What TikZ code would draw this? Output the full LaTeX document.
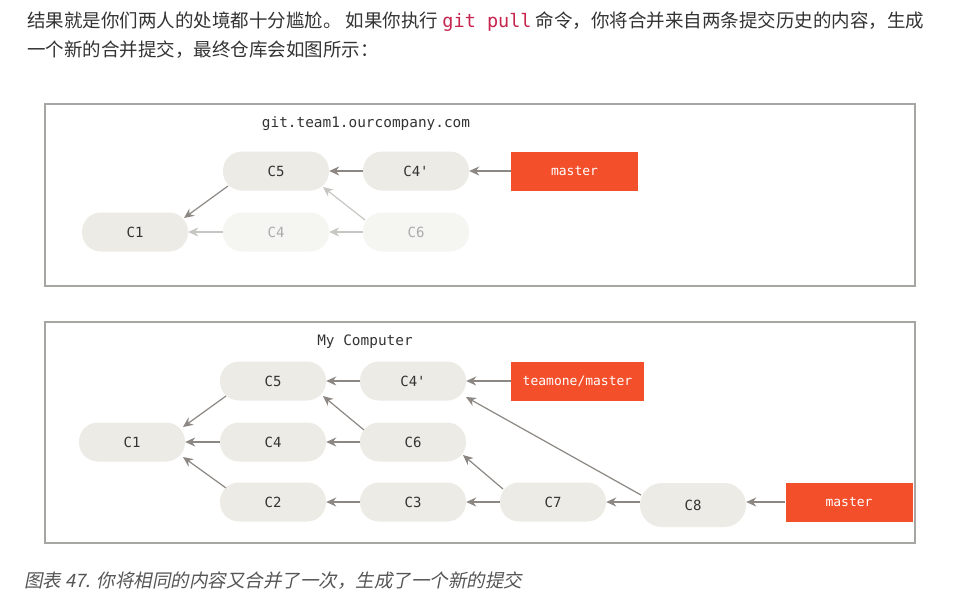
\documentclass[tikz,border=0pt]{standalone}
\usepackage{fontspec}
\newfontfamily\cjk{Noto Sans CJK SC}
\newfontfamily\cjkit[FakeSlant=0.2]{Noto Sans CJK SC}
\newfontfamily\mono{DejaVu Sans Mono}
\usetikzlibrary{arrows.meta}
\definecolor{txt}{HTML}{333333}
\definecolor{codec}{HTML}{C7254E}
\definecolor{framec}{HTML}{A8A6A2}
\definecolor{commitc}{HTML}{ECEBE5}
\definecolor{fadec}{HTML}{F5F5F1}
\definecolor{branchc}{HTML}{F44F2B}
\definecolor{arrowc}{HTML}{8C8782}
\definecolor{fadearrow}{HTML}{C8C6C2}
\definecolor{fadetext}{HTML}{ABABAB}
\definecolor{capc}{HTML}{555555}
\begin{document}
\begin{tikzpicture}[x=1pt,y=-1pt,
  commit/.style={draw=none,fill=commitc,rounded corners=19pt,minimum width=106pt,minimum height=39pt,inner sep=0pt,font=\mono\fontsize{14}{16}\selectfont,text=txt},
  fadecommit/.style={commit,fill=fadec,text=fadetext},
  branch/.style={fill=branchc,minimum height=39pt,inner sep=0pt,font=\mono\fontsize{13}{15}\selectfont,text=white},
  panel/.style={draw=framec,line width=1.5pt},
  title/.style={font=\mono\fontsize{14.4}{16}\selectfont,text=txt},
  arr/.style={draw=arrowc,line width=1.2pt,-{Stealth[length=10pt,width=9pt]}},
  farr/.style={arr,draw=fadearrow}]
\useasboundingbox (0,0) rectangle (968,600);
\fill[white] (0,0) rectangle (968,600);
% text
\node[anchor=west,inner sep=0pt,text=txt,font=\cjk\fontsize{18.5}{22}\selectfont] (l1) at (27,22) {结果就是你们两人的处境都十分尴尬。 如果你执行 {\mono\color{codec}git pull} 命令，你将合并来自两条提交历史的内容，生成};
\node[anchor=west,inner sep=0pt,text=txt,font=\cjk\fontsize{18.5}{22}\selectfont] (l2) at (27,50) {一个新的合并提交，最终仓库会如图所示：};
% panel 1
\draw[panel] (45,104) rectangle (915,286);
\node[title] (t1) at (366,124) {git.team1.ourcompany.com};
\node[commit] (a5) at (276,171) {C5};
\node[commit] (a4p) at (416,171) {C4'};
\node[branch,minimum width=127pt] (am) at (574.5,171) {master};
\node[commit] (a1) at (135,232) {C1};
\node[fadecommit] (a4) at (276,232) {C4};
\node[fadecommit] (a6) at (416,232) {C6};
\draw[arr] (am) -- (a4p);
\draw[arr] (a4p) -- (a5);
\coordinate (s5) at (228,186);
\coordinate (e1) at (184,218);
\draw[arr] (s5) -- (e1);
\draw[farr] (a4) -- (a1);
\draw[farr] (a6) -- (a4);
\coordinate (s6) at (365,220);
\coordinate (e5) at (323,187);
\draw[farr] (s6) -- (e5);
% panel 2
\draw[panel] (45,322) rectangle (915,543);
\node[title] (t2) at (365,342) {My Computer};
\node[commit] (b5) at (273,381) {C5};
\node[commit] (b4p) at (413,381) {C4'};
\node[branch,minimum width=133pt] (bt) at (577.5,381) {teamone/master};
\node[commit] (b1) at (132,442) {C1};
\node[commit] (b4) at (273,442) {C4};
\node[commit] (b6) at (413,442) {C6};
\node[commit] (b2) at (273,502) {C2};
\node[commit] (b3) at (413,502) {C3};
\node[commit] (b7) at (553,502) {C7};
\node[commit,minimum height=44pt,rounded corners=22pt] (b8) at (693,505) {C8};
\node[branch,minimum width=127pt] (bm) at (849,502) {master};
\draw[arr] (bt) -- (b4p);
\draw[arr] (b4p) -- (b5);
\draw[arr] (b6) -- (b4);
\draw[arr] (b4) -- (b1);
\draw[arr] (b3) -- (b2);
\draw[arr] (b7) -- (b3);
\draw[arr] (bm) -- (b8.east |- bm);
\draw[arr] (b8.west |- b7) -- (b7);
\coordinate (p5) at (226,396);
\coordinate (q1) at (183,427);
\draw[arr] (p5) -- (q1);
\coordinate (p2) at (226,488);
\coordinate (q2) at (183,457);
\draw[arr] (p2) -- (q2);
\coordinate (p6) at (364,430);
\coordinate (q5) at (323,396);
\draw[arr] (p6) -- (q5);
\coordinate (p7) at (503,489);
\coordinate (q6) at (463,455);
\draw[arr] (p7) -- (q6);
\coordinate (p8) at (641,495);
\coordinate (q4) at (466,397);
\draw[arr] (p8) -- (q4);
% caption
\node[anchor=west,inner sep=0pt,text=capc,font=\cjkit\fontsize{18.5}{22}\selectfont] (cap) at (24,581) {图表 47. 你将相同的内容又合并了一次，生成了一个新的提交};
\end{tikzpicture}
\end{document}
